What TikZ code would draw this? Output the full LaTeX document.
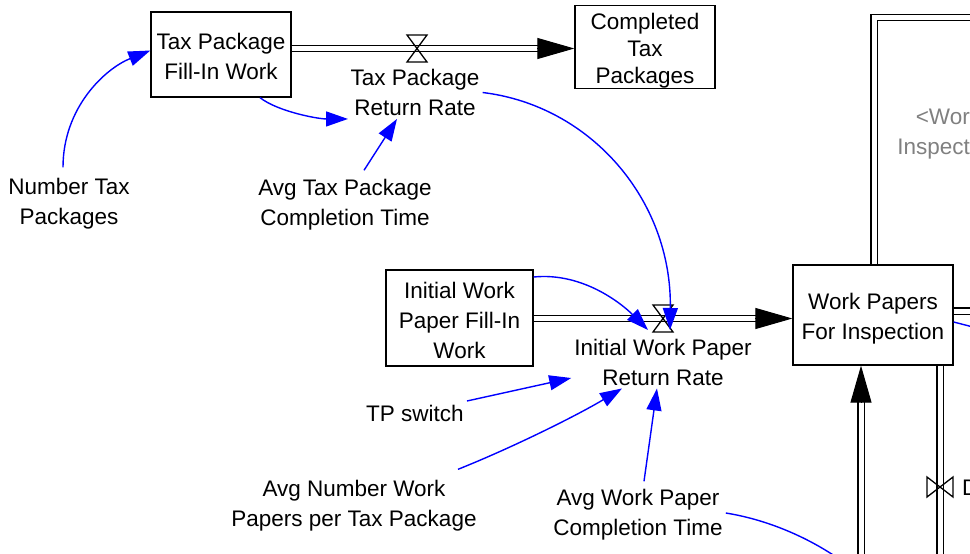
\documentclass[tikz,border=0pt]{standalone}
\usepackage{fontspec}
\setmainfont{Liberation Sans}
\usetikzlibrary{arrows.meta}
\begin{document}
\begin{tikzpicture}[x=1pt,y=-1pt,
    every node/.style={font=\fontsize{22.5}{30}\selectfont, align=center},
    stock/.style={draw, line width=1.3pt, inner sep=0pt},
    var/.style={inner sep=3pt},
    link/.style={draw=blue, line width=1.4pt, -{Triangle[length=22pt,width=15pt]}},
    pipe/.style={double, double distance=5pt, line width=1.3pt},
    pipehead/.style={-{Triangle[length=37pt,width=21pt]}, line width=1pt},
    valve/.style={line width=1.3pt}]
  \clip (0,0) rectangle (970,554);
  \node[stock, minimum width=140pt, minimum height=85pt, text height=50pt] (taxwork) at (221,54.5) {Tax Package\\Fill-In Work};
  \node[stock, minimum width=140pt, minimum height=82pt, text height=78pt, font=\fontsize{22.5}{27}\selectfont] (completed) at (645,47) {Completed\\Tax\\Packages};
  \node[stock, minimum width=147pt, minimum height=96pt, text height=82pt] (iwpwork) at (459.5,318) {Initial Work\\Paper Fill-In\\Work};
  \node[stock, minimum width=160pt, minimum height=100pt, text height=54pt] (wpinsp) at (873,315) {Work Papers\\For Inspection};
  \node[var] (taxrate) at (415,92.5) {Tax Package\\Return Rate};
  \node[var] (ntp) at (69,204) {Number Tax\\Packages};
  \node[var] (avgtax) at (345,205) {Avg Tax Package\\Completion Time};
  \node[var] (wprate) at (663,362) {Initial Work Paper\\Return Rate};
  \node[var] (tpswitch) at (415,413) {TP switch};
  \node[var] (avgnum) at (354,506) {Avg Number Work\\Papers per Tax Package};
  \node[var] (avgwp) at (638,515) {Avg Work Paper\\Completion Time};
  \node[text=gray, anchor=east, align=right, inner sep=0pt] (wpinspref) at (970,134) {<Wor\\Inspect};
  \node[anchor=west, inner sep=0pt] (dlabel) at (962,488) {D};
  \coordinate (taxvalve) at (417,48.5);
  \coordinate (wpvalve) at (663,318.5);
  \coordinate (dvalve) at (940,487);
  \coordinate (cin) at (completed.west |- taxvalve);
  \coordinate (wpin) at (wpinsp.west |- wpvalve);
  \coordinate (wpbot) at ([xshift=-12pt]wpinsp.south);
  \coordinate (inflow) at (861,600);
  \coordinate (outflow) at (940,600);
  \coordinate (topout) at (990,17.5);
  \coordinate (rightout) at (990,311);
  \coordinate (wpout) at (1000,334);
  \coordinate (avgwpout) at (860,575);
  \draw[pipe, shorten >=36pt] (taxwork.east |- taxvalve) -- (cin);
  \draw[pipehead] ([xshift=-37pt]cin) -- (cin);
  \draw[pipe, shorten >=36pt] (iwpwork.east |- wpvalve) -- (wpin);
  \draw[pipehead] ([xshift=-37pt]wpin) -- (wpin);
  \draw[pipe] ([xshift=1pt]wpinsp.north) |- (topout);
  \draw[pipe] ([yshift=4pt]wpinsp.east) -- (rightout);
  \draw[pipe, shorten >=36pt] (inflow) -- (wpbot);
  \draw[pipehead] ([yshift=-37pt]wpbot) -- (wpbot);
  \draw[pipe] ([xshift=67pt]wpinsp.south) -- (outflow);
  \draw[valve] ([shift={(-10,-13.5)}]taxvalve) -- ++(20,0) -- ++(-20,27) -- ++(20,0) -- cycle;
  \draw[valve] ([shift={(-10,-13.5)}]wpvalve) -- ++(20,0) -- ++(-20,27) -- ++(20,0) -- cycle;
  \draw[valve] ([shift={(-13,-10)}]dvalve) -- ++(0,20) -- ++(26,-20) -- ++(0,20) -- cycle;
  \draw[link] ([xshift=-6pt,yshift=8pt]ntp.north) .. controls +(0,-60) and +(-45,18) .. ([yshift=4pt]taxwork.west);
  \draw[link] ([xshift=39pt]taxwork.south) .. controls +(18,14) and +(-30,0) .. ([xshift=-67pt]taxrate.south);
  \draw[link] ([xshift=19pt,yshift=6pt]avgtax.north) -- ([xshift=-18pt]taxrate.south);
  \draw[link] (taxrate.east) .. controls +(108,13) and +(2,-130) .. ([xshift=7pt,yshift=-11.5pt]wpvalve);
  \draw[link] ([yshift=41pt]iwpwork.east) .. controls +(50,-5) and +(-25,-25) .. ([xshift=-15pt,yshift=-11.5pt]wpvalve);
  \draw[link] ([yshift=12pt]tpswitch.east) -- ([yshift=-16pt]wprate.west);
  \draw[link] ([xshift=104pt,yshift=8pt]avgnum.north) .. controls +(55,-22) and +(-45,27) .. ([xshift=-41pt]wprate.south);
  \draw[link] ([xshift=6pt,yshift=5pt]avgwp.north) -- ([xshift=-6pt]wprate.south);
  \draw[draw=blue, line width=1.4pt] ([yshift=2pt]avgwp.east) .. controls +(50,8) and +(-35,-30) .. (avgwpout);
  \draw[draw=blue, line width=1.4pt] ([yshift=-7pt]wpinsp.east) -- (wpout);
\end{tikzpicture}
\end{document}
